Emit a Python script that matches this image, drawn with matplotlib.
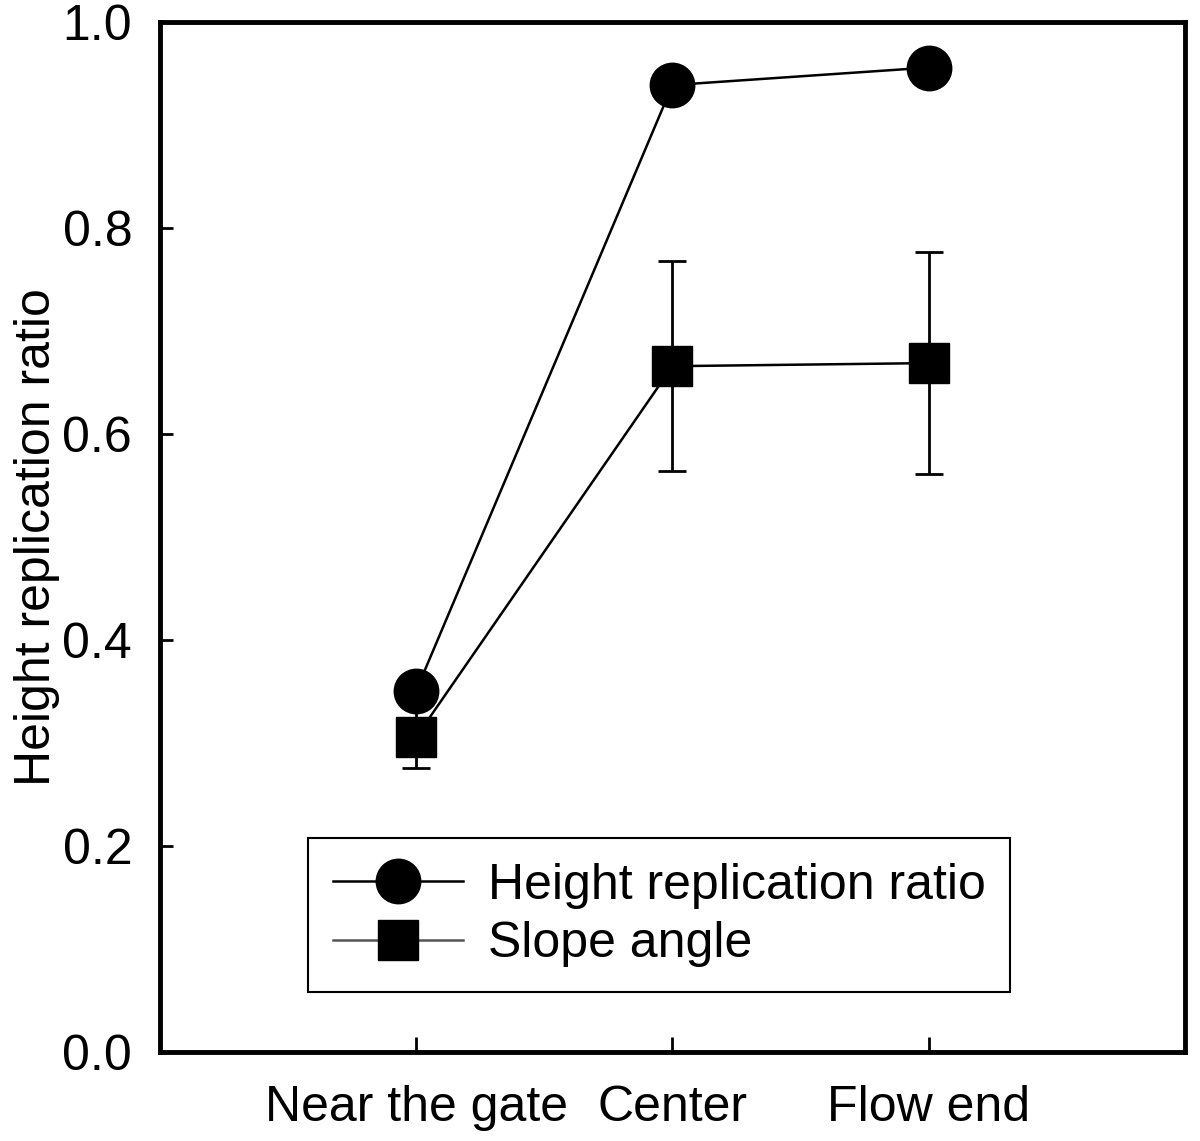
import matplotlib
matplotlib.use("Agg")
import matplotlib.pyplot as plt
from matplotlib.lines import Line2D

# dados
categorias = ["Near the gate", "Center", "Flow end"]
razao_altura = [0.351, 0.939, 0.956]
angulo_talude = [0.306, 0.666, 0.669]
erro_talude = [0.030, 0.102, 0.108]
yticks = [0.0, 0.2, 0.4, 0.6, 0.8, 1.0]

plt.rcParams["font.family"] = ["Liberation Sans", "DejaVu Sans"]

fig = plt.figure(figsize=(12, 11.41), dpi=100)
ax = fig.add_axes([0.1333, 0.078, 0.8542, 0.9025])

x = list(range(1, len(categorias) + 1))

ax.plot(x, razao_altura, color="black", lw=1.8, marker="o",
        markersize=32, zorder=3)
ax.errorbar(x, angulo_talude, yerr=erro_talude, color="black", lw=1.8,
            marker="s", markersize=29.5, elinewidth=2, capsize=10,
            capthick=2, zorder=2)

ax.set_xlim(0, 4)
ax.set_ylim(0, 1.0)
ax.set_xticks(x)
ax.set_xticklabels(categorias)
ax.set_yticks(yticks)
ax.set_yticklabels([f"{v:.1f}" for v in yticks])

ax.tick_params(axis="both", direction="in", labelsize=36, width=2)
ax.tick_params(axis="y", length=9, pad=20)
ax.tick_params(axis="x", length=11, pad=24)

for s in ax.spines.values():
    s.set_linewidth(3.5)

ax.set_ylabel("Height replication ratio", fontsize=36, labelpad=2)

# legenda dentro do gráfico (sem barra de erro no símbolo)
handles = [
    Line2D([], [], color="black", lw=1.8, marker="o", markersize=32),
    Line2D([], [], color="#555555", lw=1.8, marker="s", markersize=29.5,
           markerfacecolor="black", markeredgecolor="black"),
]
labels = ["Height replication ratio", "Slope angle"]
leg = ax.legend(handles, labels, loc="lower left",
                bbox_to_anchor=(0.144, 0.058), borderaxespad=0,
                fontsize=36, numpoints=1,
                handlelength=2.6, handletextpad=0.5, labelspacing=0.25,
                borderpad=0.5, fancybox=False, framealpha=1,
                edgecolor="black")
leg.get_frame().set_linewidth(1.5)

fig.savefig("out.png", dpi=100)
